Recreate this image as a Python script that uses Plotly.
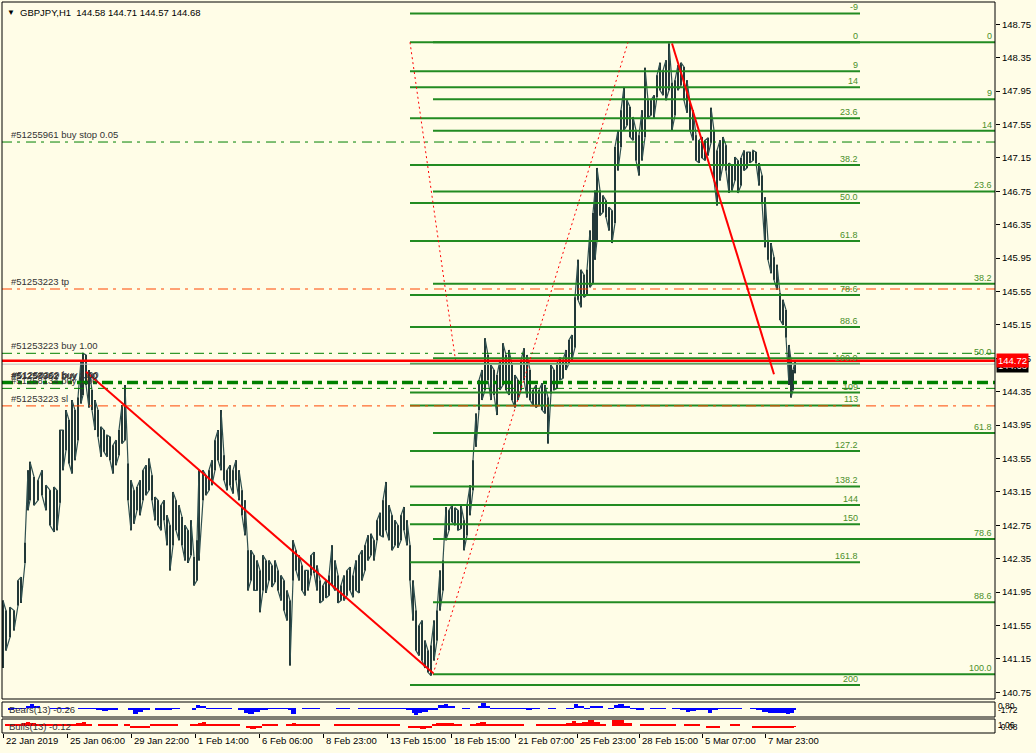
import plotly.graph_objects as go

# ---------------- data ----------------
title_text = "GBPJPY,H1  144.58 144.71 144.57 144.68"

bar_idx = [0, 3, 7, 11, 15, 18, 22, 25, 27, 31, 35, 39, 43, 47, 51, 54, 57, 60, 63, 66,
           69, 72, 75, 78, 80, 83, 86, 89, 92, 95, 98, 101, 104, 107, 110, 113, 116, 119, 122, 125,
           128, 131, 134, 137, 140, 143, 146, 149, 152, 155, 158, 161, 164, 167, 170, 173, 176, 179, 182, 185,
           188, 191, 194, 196, 200, 203, 206, 209, 212, 215, 218, 221, 224, 227, 230, 233, 236, 239, 242, 245,
           248, 251, 254, 257, 260, 263, 266, 269, 272, 275, 278, 281, 284, 287, 290, 293, 296, 299, 302, 305,
           308, 311, 314, 317, 320, 323, 326, 329, 332, 335, 338, 341, 344, 347, 350, 353, 356, 359, 362, 365,
           368, 371, 374, 377, 380, 383, 386, 389, 392, 395, 398, 401, 404, 407, 410, 413, 416, 419, 422, 425,
           428, 431, 434, 437, 440, 443, 446, 449, 452, 455, 458, 461, 464, 467, 470, 473, 476, 479, 482, 485,
           488, 491, 494, 497, 500, 503, 506, 509, 512, 515, 518, 521, 524, 527, 530, 533, 536, 539, 542, 545,
           548, 551, 554, 557, 560, 563, 566, 569, 572, 575, 578, 581, 584, 587, 590, 592, 594, 597, 600, 603,
           606, 609, 612, 615, 618, 621, 624, 627, 630, 633, 636, 639, 642, 645, 648, 651, 654, 657, 660, 663,
           666, 669, 672, 675, 678, 681, 684, 687, 690, 693, 696, 699, 702, 705, 708, 711, 714, 717, 720, 723,
           726, 729, 732, 735, 738, 741, 744, 747, 750, 753, 756, 759, 762, 765, 768, 771, 774, 777, 780, 783,
           786, 788, 790, 792]
bar_high = [141.85, 141.73, 141.77, 141.73, 142.09, 142.13, 142.54, 143.41, 143.51, 143.33, 143.29, 143.41, 143.23, 143.17, 143.21, 143.17, 143.89, 143.89, 144.13, 144.01,
            144.25, 144.13, 144.28, 144.73, 144.81, 144.79, 144.61, 144.37, 144.25, 144.13, 143.93, 143.89, 143.83, 143.81, 143.71, 143.77, 143.89, 144.19, 144.43, 143.49,
            143.29, 143.17, 143.21, 143.29, 143.41, 143.47, 143.55, 143.35, 143.09, 143.05, 142.99, 143.05, 142.87, 142.75, 143.15, 143.05, 142.99, 142.85, 142.75, 142.69,
            142.81, 142.37, 142.57, 143.41, 143.41, 143.35, 143.41, 143.53, 143.77, 143.89, 144.13, 143.59, 143.41, 143.47, 143.41, 143.53, 143.41, 143.17, 143.05, 142.45,
            142.45, 142.39, 142.33, 142.21, 142.39, 142.33, 142.33, 142.27, 142.33, 142.21, 142.15, 142.09, 141.97, 141.85, 142.57, 142.45, 142.39, 142.27, 142.21, 142.21,
            142.39, 142.43, 142.27, 142.09, 142.03, 142.09, 142.15, 142.51, 142.33, 142.15, 142.03, 142.15, 142.21, 142.25, 142.15, 142.33, 142.39, 142.45, 142.51, 142.63,
            142.65, 142.57, 142.81, 142.90, 143.05, 143.27, 142.99, 142.87, 142.81, 142.75, 142.87, 142.97, 142.81, 142.51, 142.09, 141.73, 141.55, 141.61, 141.37, 141.25,
            141.31, 141.61, 141.73, 142.21, 142.33, 142.97, 142.93, 142.99, 142.96, 142.93, 142.99, 142.81, 142.99, 143.23, 143.53, 144.09, 144.49, 144.61, 144.99, 144.79,
            144.67, 144.61, 144.55, 144.73, 144.93, 144.79, 144.85, 144.67, 144.55, 144.49, 144.73, 144.87, 144.79, 144.61, 144.37, 144.43, 144.37, 144.45, 144.43, 144.28,
            144.67, 144.61, 144.69, 144.76, 144.73, 144.85, 144.97, 145.03, 145.48, 145.93, 145.81, 145.75, 145.81, 146.28, 146.49, 146.76, 147.03, 146.76, 146.70, 146.64,
            146.56, 146.52, 147.28, 147.48, 147.72, 148.00, 147.84, 147.76, 147.64, 147.48, 147.42, 147.72, 148.23, 147.84, 147.84, 147.90, 148.14, 148.29, 148.20, 148.32,
            148.52, 148.05, 148.08, 148.26, 148.29, 148.24, 148.08, 147.81, 147.72, 147.42, 147.36, 147.40, 147.36, 147.39, 147.75, 147.48, 147.24, 147.36, 147.40, 147.30,
            147.09, 147.06, 147.16, 147.12, 147.15, 147.24, 147.22, 147.22, 147.24, 147.22, 147.09, 146.94, 146.68, 146.16, 146.13, 145.96, 145.87, 145.53, 145.45, 145.33,
            144.91, 144.73, 144.61, 144.71]
bar_low = [141.04, 141.25, 141.41, 141.49, 141.79, 141.82, 142.30, 142.93, 143.05, 142.99, 143.05, 143.11, 142.93, 142.75, 142.67, 142.69, 143.02, 143.41, 143.65, 143.49,
           143.37, 143.53, 143.77, 144.21, 144.31, 144.43, 144.16, 144.13, 143.89, 143.81, 143.57, 143.63, 143.57, 143.53, 143.37, 143.47, 143.59, 143.73, 143.77, 143.05,
           142.69, 142.77, 142.93, 142.87, 143.05, 143.11, 143.17, 143.05, 142.81, 142.75, 142.69, 142.81, 142.51, 142.21, 142.51, 142.69, 142.57, 142.51, 142.33, 142.30,
           142.39, 142.03, 142.09, 142.33, 143.05, 143.11, 143.17, 143.23, 143.41, 143.53, 143.41, 143.29, 143.17, 143.23, 143.13, 143.29, 143.05, 142.87, 142.63, 141.97,
           142.09, 141.97, 141.97, 141.71, 141.97, 141.94, 142.09, 142.01, 142.07, 141.97, 141.85, 141.73, 141.61, 141.07, 142.09, 142.21, 142.09, 141.97, 141.91, 141.97,
           142.15, 142.18, 141.97, 141.82, 141.85, 141.88, 141.91, 142.03, 141.97, 141.82, 141.85, 141.85, 141.91, 141.97, 141.89, 141.97, 141.94, 142.09, 142.21, 142.33,
           142.39, 142.33, 142.57, 142.63, 142.61, 142.69, 142.57, 142.45, 142.51, 142.48, 142.57, 142.69, 142.51, 142.09, 141.61, 141.25, 141.19, 141.13, 141.04, 140.99,
           140.95, 141.13, 141.37, 141.73, 141.97, 142.57, 142.69, 142.79, 142.75, 142.69, 142.71, 142.45, 142.63, 142.87, 143.17, 143.69, 144.13, 144.25, 144.37, 144.49,
           144.25, 144.31, 144.07, 144.37, 144.43, 144.37, 144.31, 144.25, 144.16, 144.25, 144.37, 144.49, 144.28, 144.25, 144.19, 144.16, 144.19, 144.13, 144.09, 143.73,
           144.33, 144.37, 144.39, 144.49, 144.51, 144.61, 144.69, 144.73, 144.88, 145.45, 145.36, 145.48, 145.51, 145.60, 145.65, 145.93, 146.16, 146.46, 146.50, 146.44,
           146.28, 146.13, 146.37, 147.00, 147.28, 147.48, 147.54, 147.40, 147.36, 147.12, 146.94, 147.12, 147.40, 147.63, 147.66, 147.63, 147.88, 147.96, 147.90, 147.84,
           147.96, 147.48, 147.66, 147.96, 148.02, 147.84, 147.69, 147.48, 147.36, 147.12, 147.09, 147.15, 147.12, 147.18, 147.33, 146.88, 146.58, 146.88, 147.06, 147.00,
           146.73, 146.76, 146.88, 146.73, 146.82, 147.00, 147.03, 147.09, 147.12, 147.09, 146.82, 146.61, 146.08, 145.93, 145.77, 145.69, 145.57, 145.21, 145.15, 145.00,
           144.43, 144.28, 144.37, 144.57]

# right price axis
price_ticks = [148.75, 148.35, 147.95, 147.55, 147.15, 146.75, 146.35, 145.95, 145.55,
               145.15, 144.75, 144.35, 143.95, 143.55, 143.15, 142.75, 142.35, 141.95,
               141.55, 141.15, 140.75]
ask_price = 144.72
bid_price = 144.68

# time axis
time_label_bars = [0, 64, 128, 192, 256, 320, 384, 448, 512, 574, 636, 699, 762]
time_labels = ["22 Jan 2019", "25 Jan 06:00", "29 Jan 22:00", "1 Feb 14:00", "6 Feb 06:00",
               "8 Feb 23:00", "13 Feb 15:00", "18 Feb 15:00", "21 Feb 07:00", "25 Feb 23:00",
               "28 Feb 15:00", "5 Mar 07:00", "7 Mar 23:00"]

# Fibonacci A (short, labels in the middle)
fib_a_levels = [-9, 0, 9, 14, 23.6, 38.2, 50, 61.8, 78.6, 88.6, 100, 109, 113, 127.2, 138.2, 144, 150, 161.8, 200]
fib_a_labels = ["-9", "0", "9", "14", "23.6", "38.2", "50.0", "61.8", "78.6", "88.6", "100.0",
                "109", "113", "127.2", "138.2", "144", "150", "161.8", "200"]
fib_a_high, fib_a_low = 148.534, 144.686
fib_a_from, fib_a_to = 407, 857
fib_a_anchor_bars = [407, 453]

# Fibonacci B (ray to the right)
fib_b_levels = [0, 9, 14, 23.6, 38.2, 50, 61.8, 78.6, 88.6, 100]
fib_b_labels = ["0", "9", "14", "23.6", "38.2", "50.0", "61.8", "78.6", "88.6", "100.0"]
fib_b_high, fib_b_low = 148.534, 140.966
fib_b_from, fib_b_to = 430, 992
fib_b_anchor_bars = [430, 625]

# red trend lines
trend1_bars, trend1_prices = [83, 430], [144.59, 140.98]
trend2_bars, trend2_prices = [669, 771], [148.52, 144.56]

# order lines
order_prices = [147.34, 145.58, 144.81, 144.46, 144.39, 144.18]
order_colors = ["#008000", "#FF4500", "#008000", "#008000", "#008000", "#FF4500"]
order_widths = [1, 1, 1, 3.5, 1, 1]
order_labels = ["#51255961 buy stop 0.05", "#51253223 tp", "#51253223 buy 1.00",
                "#51258962 buy 1.00", "#51258134 buy 1.00", "#51253223 sl"]
stacked_labels = ["#51257362 buy 1.00", "#51258269 buy 1.00"]

# Bears Power (13)
bears_bars = [5, 11, 17, 23, 27, 31, 37, 47, 57, 67, 75, 81, 87, 93, 99, 105, 109, 115, 125, 130,
              135, 140, 147, 152, 157, 163, 169, 177, 189, 193, 197, 203, 209, 217, 223, 229, 235, 241, 245, 251,
              257, 265, 271, 277, 285, 288, 293, 299, 305, 311, 317, 333, 341, 347, 355, 363, 371, 377, 385, 393,
              403, 409, 411, 415, 419, 425, 429, 435, 441, 445, 452, 459, 467, 475, 478, 483, 487, 493, 500, 507,
              515, 523, 529, 537, 545, 553, 563, 571, 575, 581, 587, 593, 600, 605, 611, 615, 621, 627, 633, 641,
              647, 655, 663, 669, 677, 683, 687, 693, 699, 705, 709, 715, 721, 727, 733, 739, 747, 753, 759, 765,
              771, 777, 783, 787, 791]
bears_vals = [-0.2, -0.1, -0.15, 0.4, 0.6, 0.3, 0, -0.15, -0.15, 0, -0.15, -0.15, -0.15, -0.3, -0.5, -0.4, -0.3, 0, -0.4, -1.0,
              -0.7, -0.3, 0, -0.2, -0.3, -0.2, -0.15, 0, -0.2, 0.5, 0.3, -0.15, -0.15, -0.15, -0.15, 0, -0.3, -0.8, -1.0, -0.6,
              -0.2, -0.15, -0.15, -0.15, -0.4, -1.0, 0, -0.15, -0.15, -0.15, 0, -0.15, -0.15, 0, -0.15, -0.15, -0.15, -0.15, -0.15, -0.15,
              -0.3, -0.8, -1.2, -0.9, -0.6, -0.3, -0.2, 0.5, 0.6, 0.3, 0, -0.15, 0, 0.4, 0.8, 0.4, -0.15, -0.15, -0.15, -0.15,
              -0.15, -0.3, -0.15, 0, -0.15, 0, -0.15, 0.6, 0.4, -0.15, 0.4, 0.3, 0, -0.15, 0.5, 0.6, 0.3, -0.15, -0.2, 0,
              -0.15, -0.15, 0, -0.15, -0.3, -0.6, -0.5, -0.2, -0.3, -0.8, -0.3, -0.15, -0.15, -0.15, -0.15, 0, -0.15, -0.3, -0.6, -0.9,
              -0.8, -0.9, -1.0, -0.8, -0.26]

# Bulls Power (13)
bulls_bars = [2, 7, 13, 19, 23, 27, 33, 41, 49, 57, 63, 69, 73, 79, 83, 89, 95, 103, 109, 115,
              121, 127, 133, 139, 147, 153, 159, 167, 175, 187, 195, 199, 203, 209, 217, 223, 231, 237, 243, 247,
              253, 259, 267, 275, 283, 289, 293, 301, 309, 317, 331, 339, 347, 355, 363, 371, 377, 383, 389, 397,
              405, 411, 417, 423, 429, 433, 439, 445, 451, 459, 467, 473, 477, 483, 489, 497, 505, 513, 521, 533,
              541, 549, 557, 563, 569, 573, 579, 585, 591, 597, 603, 609, 615, 621, 629, 637, 643, 649, 657, 665,
              673, 681, 687, 697, 703, 709, 717, 727, 737, 749, 757, 765, 773, 781, 787, 791]
bulls_vals = [0.15, 0.15, 0.2, 0.5, 0.6, 0.4, 0.15, 0.15, 0.15, 0.2, 0.15, 0.3, 0.5, 0.6, 0.3, 0, 0.15, 0.15, 0.15, 0,
              0.15, -0.3, -0.2, -0.15, 0.15, 0.15, 0.15, 0.15, 0, 0.15, 0.5, 0.6, 0.3, 0.15, 0.15, 0.15, 0.15, 0, -0.3, -0.4,
              -0.15, 0.15, 0.15, 0, 0.15, 0.4, 0.2, 0.15, 0.15, 0, 0.15, 0.15, 0.15, 0.15, 0.15, 0.15, 0.2, 0.3, 0.15, 0,
              -0.2, -0.3, -0.4, -0.3, 0.2, 0.4, 0.5, 0.4, 0.15, 0, 0.2, 0.4, 0.6, 0.3, 0.15, 0.15, 0.15, 0.15, 0, 0.2,
              0.3, 0.15, 0.3, 0.4, 0.7, 0.5, 0.6, 0.9, 0.6, 0.3, 0, 0.8, 0.9, 0.4, 0, 0.3, 0.15, 0.15, 0.15, 0.15,
              0, 0.15, 0.15, 0, -0.15, -0.15, 0, 0.15, 0, -0.15, -0.2, -0.15, -0.2, -0.15, -0.15, -0.12]

# ---------------- styling ----------------
BG = "#FFFDE7"
FONT = "Liberation Sans, Arial, sans-serif"
FIB_COLOR = "#228B22"
FIB_TEXT = "#4a8f2a"
W, H = 1036, 753
ML, MR, MT, MB = 2, 41, 2, 20
PH = H - MT - MB  # plot height in px


def py(pix_from_top):
    """convert a pixel row (from top of figure) to paper y"""
    return (H - MB - pix_from_top) / PH


main_dom = [py(699), 1.0]
bears_dom = [py(717), py(702)]
bulls_dom = [0.0, py(719)]

fig = go.Figure()

# price bars: vertical high-low segments plus a jagged connecting path
vx, vy = [], []
for b, hi, lo in zip(bar_idx, bar_high, bar_low):
    vx += [b, b, None]
    vy += [lo, hi, None]
fig.add_trace(go.Scatter(x=vx, y=vy, mode="lines", line=dict(color="#101818", width=2),
                         hoverinfo="skip", showlegend=False))
zx, zy = [], []
for i, (b, hi, lo) in enumerate(zip(bar_idx, bar_high, bar_low)):
    zx += [b, b]
    zy += [lo, hi] if i % 2 == 0 else [hi, lo]
fig.add_trace(go.Scatter(x=zx, y=zy, mode="lines", line=dict(color="#2F4F4F", width=1.2),
                         hoverinfo="skip", showlegend=False))

# Fibonacci A
for lv in fib_a_levels:
    p = fib_a_high - lv / 100 * (fib_a_high - fib_a_low)
    fig.add_trace(go.Scatter(x=[fib_a_from, fib_a_to], y=[p, p], mode="lines",
                             line=dict(color=FIB_COLOR, width=2), hoverinfo="skip", showlegend=False))
# Fibonacci B
for lv in fib_b_levels:
    p = fib_b_high - lv / 100 * (fib_b_high - fib_b_low)
    fig.add_trace(go.Scatter(x=[fib_b_from, fib_b_to], y=[p, p], mode="lines",
                             line=dict(color=FIB_COLOR, width=2), hoverinfo="skip", showlegend=False))

# dotted fib anchor lines
fig.add_trace(go.Scatter(x=fib_a_anchor_bars, y=[fib_a_high, fib_a_low], mode="lines",
                         line=dict(color="#FF0000", width=1, dash="2px,3px"), hoverinfo="skip", showlegend=False))
fig.add_trace(go.Scatter(x=fib_b_anchor_bars, y=[fib_b_low, fib_b_high], mode="lines",
                         line=dict(color="#FF0000", width=1, dash="2px,3px"), hoverinfo="skip", showlegend=False))

# order lines
for p, c, w in zip(order_prices, order_colors, order_widths):
    dash = "10px,5px,3px,6px" if w < 2 else "11px,5px,4px,5px"
    fig.add_trace(go.Scatter(x=[-1, 992], y=[p, p], mode="lines",
                             line=dict(color=c, width=w, dash=dash), hoverinfo="skip", showlegend=False))

# bid / ask lines
fig.add_trace(go.Scatter(x=[-1, 992], y=[bid_price, bid_price], mode="lines",
                         line=dict(color="#C0C0C0", width=1), hoverinfo="skip", showlegend=False))
fig.add_trace(go.Scatter(x=[-1, 992], y=[ask_price, ask_price], mode="lines",
                         line=dict(color="#FF0000", width=2.5), hoverinfo="skip", showlegend=False))

# trend lines
fig.add_trace(go.Scatter(x=trend1_bars, y=trend1_prices, mode="lines",
                         line=dict(color="#FF0000", width=2), hoverinfo="skip", showlegend=False))
fig.add_trace(go.Scatter(x=trend2_bars, y=trend2_prices, mode="lines",
                         line=dict(color="#FF0000", width=2), hoverinfo="skip", showlegend=False))

# indicators
bw = [bears_bars[i + 1] - bears_bars[i] for i in range(len(bears_bars) - 1)] + [2]
fig.add_trace(go.Bar(x=bears_bars, y=bears_vals, width=bw, offset=0, marker=dict(color="#0000FF", line_width=0),
                     yaxis="y2", hoverinfo="skip", showlegend=False))
uw = [bulls_bars[i + 1] - bulls_bars[i] for i in range(len(bulls_bars) - 1)] + [2]
fig.add_trace(go.Bar(x=bulls_bars, y=bulls_vals, width=uw, offset=0, marker=dict(color="#FF0000", line_width=0),
                     yaxis="y3", hoverinfo="skip", showlegend=False))

ann = []
# title
ann.append(dict(text="▼", x=0, xref="paper", y=1, yref="paper", xanchor="left", yanchor="top",
                xshift=3, yshift=-4, showarrow=False, font=dict(size=8, color="#000", family=FONT)))
ann.append(dict(text=title_text, x=0, xref="paper", y=1, yref="paper", xanchor="left", yanchor="top",
                xshift=16, yshift=-3, showarrow=False, font=dict(size=9.5, color="#000", family=FONT)))

# fib labels
for lv, lab in zip(fib_a_levels, fib_a_labels):
    p = fib_a_high - lv / 100 * (fib_a_high - fib_a_low)
    ann.append(dict(text=lab, x=fib_a_to, y=p, xref="x", yref="y", xanchor="right", yanchor="bottom",
                    showarrow=False, yshift=-1, font=dict(size=9, color=FIB_TEXT, family=FONT)))
for lv, lab in zip(fib_b_levels, fib_b_labels):
    p = fib_b_high - lv / 100 * (fib_b_high - fib_b_low)
    ann.append(dict(text=lab, x=fib_b_to, y=p, xref="x", yref="y", xanchor="right", yanchor="bottom",
                    showarrow=False, yshift=-1, xshift=-1, font=dict(size=9, color=FIB_TEXT, family=FONT)))

# order labels
for k, (p, lab) in enumerate(zip(order_prices, order_labels)):
    ann.append(dict(text=lab, x=0, xref="paper", y=p, yref="y", xanchor="left", yanchor="bottom",
                    xshift=7, yshift=0, showarrow=False, font=dict(size=9.5, color="#333333", family=FONT)))
for j, lab in enumerate(stacked_labels):
    ann.append(dict(text=lab, x=0, xref="paper", y=order_prices[3], yref="y", xanchor="left", yanchor="bottom",
                    xshift=7 + j, yshift=j, showarrow=False, font=dict(size=9.5, color="#333333", family=FONT)))

# price boxes on the right axis
ann.append(dict(text=f"{bid_price:.2f}", x=1, xref="paper", y=bid_price, yref="y", xanchor="left",
                xshift=1, yshift=-1, showarrow=False, bgcolor="#000000", borderpad=1,
                font=dict(size=9.5, color="#FFFFFF", family=FONT)))
ann.append(dict(text=f"{ask_price:.2f}", x=1, xref="paper", y=ask_price, yref="y", xanchor="left",
                xshift=1, showarrow=False, bgcolor="#FF0000", borderpad=1,
                font=dict(size=9.5, color="#FFFFFF", family=FONT)))

# indicator captions
ann.append(dict(text="Bears(13) -0.26", x=0, xref="paper", y=-0.2, yref="y2", xanchor="left",
                xshift=5, showarrow=False, font=dict(size=9.5, color="#333333", family=FONT)))
ann.append(dict(text="Bulls(13) -0.12", x=0, xref="paper", y=-0.1, yref="y3", xanchor="left",
                xshift=5, showarrow=False, font=dict(size=9.5, color="#333333", family=FONT)))
for txt, yy, ref in [("0.80", 0.4, "y2"), ("-1.72", -0.3, "y2"), ("1.06", 0.2, "y3"), ("-0.08", -0.2, "y3")]:
    ann.append(dict(text=txt, x=1, xref="paper", y=yy, yref=ref, xanchor="left", xshift=1,
                    showarrow=False, font=dict(size=8.5, color="#000", family=FONT)))

# time labels
for b, lab in zip(time_label_bars, time_labels):
    ann.append(dict(text=lab, x=b, xref="x", y=-8 / PH, yref="paper", xanchor="left", yanchor="middle",
                    xshift=1, showarrow=False, font=dict(size=9.5, color="#000", family=FONT)))

# panel borders
shapes = []
for d in (main_dom, bears_dom, bulls_dom):
    shapes.append(dict(type="rect", xref="paper", yref="paper", x0=0, x1=1, y0=d[0], y1=d[1],
                       line=dict(color="#000000", width=1), fillcolor="rgba(0,0,0,0)", layer="above"))

fig.update_layout(
    width=W, height=H, margin=dict(l=ML, r=MR, t=MT, b=MB),
    paper_bgcolor=BG, plot_bgcolor=BG, bargap=0, showlegend=False,
    annotations=ann, shapes=shapes,
    xaxis=dict(range=[-1, 992], anchor="y3", showgrid=False, zeroline=False, showline=False,
               tickvals=time_label_bars, ticktext=[""] * len(time_label_bars), ticks="outside",
               ticklen=4, tickcolor="#000", tickwidth=1),
    yaxis=dict(domain=main_dom, range=[140.67, 149.017], side="right", anchor="x",
               tickvals=price_ticks, ticktext=[f"{v:.2f}" for v in price_ticks],
               ticks="outside", ticklen=4, tickcolor="#000", showgrid=False, zeroline=False,
               showline=False, tickfont=dict(size=9.5, color="#000", family=FONT)),
    yaxis2=dict(domain=bears_dom, range=[-1.5, 1.0], anchor="x", side="right", showgrid=False,
                zeroline=False, showticklabels=False, ticks=""),
    yaxis3=dict(domain=bulls_dom, range=[-1.0, 1.0], anchor="x", side="right", showgrid=False,
                zeroline=False, showticklabels=False, ticks=""),
)

fig.write_html("out.html", config={"displayModeBar": False},
               post_script="document.body.style.margin='0';document.body.style.background='" + BG + "';")
